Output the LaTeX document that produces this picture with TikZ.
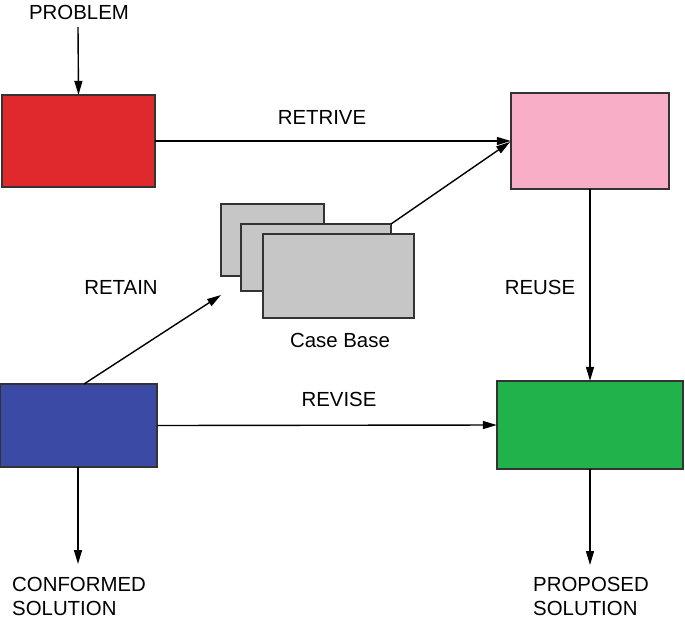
\documentclass[tikz,border=0pt]{standalone}
\usepackage{fontspec}
\setmainfont{Liberation Sans}
\usetikzlibrary{arrows.meta}
\definecolor{cred}{HTML}{E0292D}
\definecolor{cpink}{HTML}{F9AEC8}
\definecolor{cblue}{HTML}{3A4AA5}
\definecolor{cgreen}{HTML}{22B24C}
\definecolor{cgray}{HTML}{C6C6C6}
\definecolor{cedge}{HTML}{333333}
\tikzset{
  box/.style={draw=cedge, line width=1.4pt, inner sep=0pt},
  lbl/.style={inner sep=0pt, font=\fontsize{20.4}{24}\selectfont},
  conn/.style={line width=1.4pt, -{Triangle[length=14pt,width=8pt]}},
}
\begin{document}
\begin{tikzpicture}[x=1pt,y=-1pt]
\useasboundingbox (0,0) rectangle (685,625);
% boxes
\path[box,fill=cred] (2,95) rectangle (155,187);
\node[inner sep=0pt, minimum width=153pt, minimum height=92pt] (prob) at (78.5,141) {};
\path[box,fill=cpink] (511,93) rectangle (669,189);
\node[inner sep=0pt, minimum width=158pt, minimum height=96pt] (reuse) at (590,141) {};
\path[box,fill=cblue] (0.7,384) rectangle (157,467);
\node[inner sep=0pt, minimum width=156pt, minimum height=83pt] (conf) at (78.8,425.5) {};
\path[box,fill=cgreen] (497,381) rectangle (683,469);
\node[inner sep=0pt, minimum width=186pt, minimum height=88pt] (prop) at (590,425) {};
% case base
\path[box,fill=cgray] (221,204) rectangle (324,276);
\path[box,fill=cgray] (241,224) rectangle (391,291);
\path[box,fill=cgray] (263,234) rectangle (414,318);
\coordinate (cbcorner) at (391,224);
\coordinate (cbin) at (221,295);
% labels
\node[lbl, anchor=base] (tproblem) at (79,19) {PROBLEM};
\node[lbl, anchor=base] (tretrive) at (322,124) {RETRIVE};
\node[lbl, anchor=base] (tretain) at (121,294) {RETAIN};
\node[lbl, anchor=base] (treuse) at (540,294) {REUSE};
\node[lbl, anchor=base] (trevise) at (339,406) {REVISE};
\node[lbl, anchor=base] (tcase) at (340,347) {Case Base};
\node[lbl, anchor=base west, align=left] (tconf) at (12,615) {CONFORMED\\SOLUTION};
\node[lbl, anchor=base west, align=left] (tprop) at (533,615) {PROPOSED\\SOLUTION};
% connectors
\coordinate (pin) at (78,27);
\coordinate (cout) at (78,564);
\coordinate (pout) at (590,565);
\draw[conn] (pin) -- (prob.north);
\draw[conn] (prob.east) -- (reuse.west);
\draw[conn] (cbcorner) -- (510,142);
\draw[conn] (reuse.south) -- (prop.north);
\draw[conn] (conf.east) -- (prop.west);
\draw[conn] (84,384) -- (cbin);
\draw[conn] (78,467) -- (cout);
\draw[conn] (prop.south) -- (pout);
\end{tikzpicture}
\end{document}
